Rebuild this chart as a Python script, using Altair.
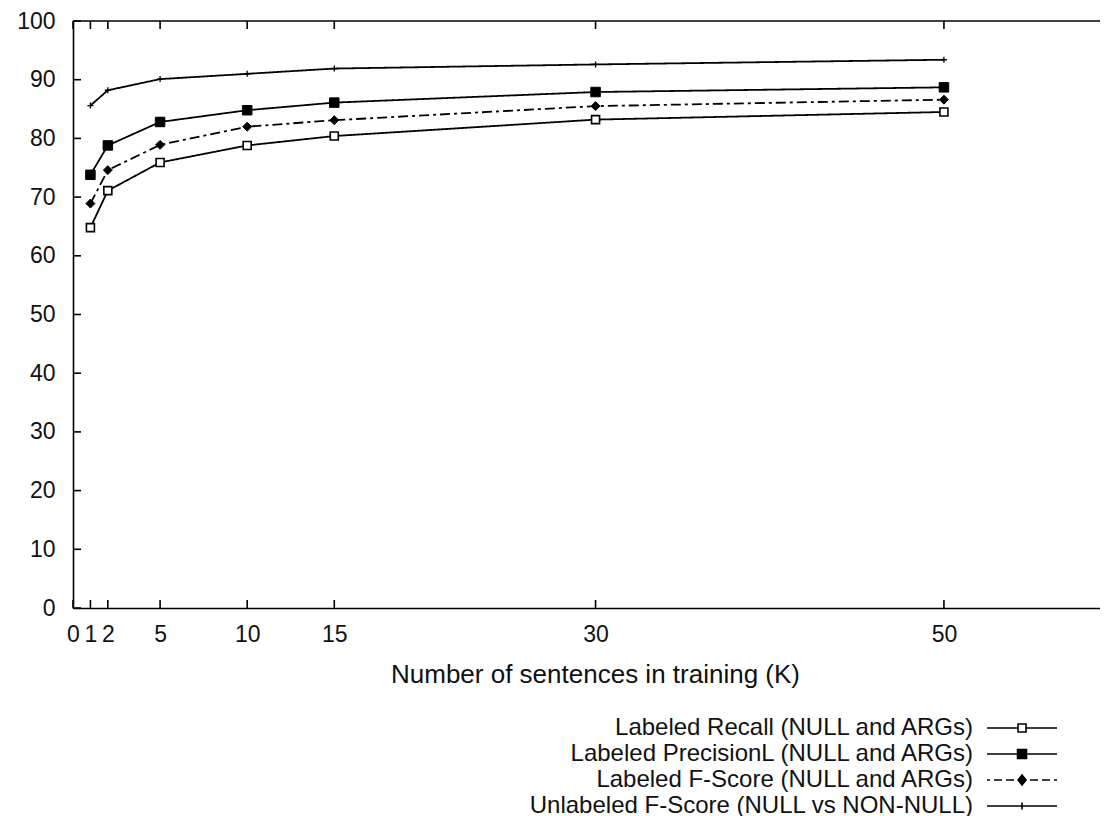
import altair as alt
import pandas as pd

# ---- data ----
x_vals = [1, 2, 5, 10, 15, 30, 50]
series_names = [
    "Labeled Recall (NULL and ARGs)",
    "Labeled PrecisionL (NULL and ARGs)",
    "Labeled F-Score (NULL and ARGs)",
    "Unlabeled F-Score (NULL vs NON-NULL)",
]
recall = [64.8, 71.1, 75.9, 78.8, 80.4, 83.2, 84.5]
precision = [73.8, 78.8, 82.8, 84.8, 86.1, 87.9, 88.7]
fscore = [68.9, 74.6, 78.9, 82.0, 83.1, 85.5, 86.6]
unlabeled = [85.6, 88.2, 90.1, 91.0, 91.9, 92.6, 93.4]
x_ticks = [0, 1, 2, 5, 10, 15, 30, 50]
y_ticks = [0, 10, 20, 30, 40, 50, 60, 70, 80, 90, 100]

values = [recall, precision, fscore, unlabeled]
rows = []
for name, ys_ in zip(series_names, values):
    for xv, yv in zip(x_vals, ys_):
        rows.append({"series": name, "x": xv, "y": yv})
df = pd.DataFrame(rows)
ytick_df = pd.DataFrame({"y": y_ticks})
xtick_df = pd.DataFrame({"x": x_ticks})

FONT = "Liberation Sans"
TXT = "#111111"
XMAX = 58.96

xs = alt.Scale(domain=[0, XMAX], nice=False, zero=False)
ys = alt.Scale(domain=[0, 100], nice=False, zero=False)

xaxis = alt.Axis(
    values=x_ticks, title="Number of sentences in training (K)",
    ticks=False, domain=True, domainColor="black", domainWidth=1.6, grid=False,
    labelPadding=15, labelFontSize=23, labelFont=FONT, labelColor=TXT,
    labelFlush=False, labelOverlap=False, labelBound=False,
    titleFont=FONT, titleFontSize=26, titleFontWeight="normal", titleColor=TXT,
    titleX=522, titleY=74, titleBaseline="alphabetic",
)
yaxis = alt.Axis(
    values=y_ticks, title=None,
    ticks=False, domain=True, domainColor="black", domainWidth=1.6, grid=False,
    labelPadding=18, labelFontSize=23, labelFont=FONT, labelColor=TXT,
    labelFlush=False, labelOverlap=False, labelBound=False,
)

X = lambda f: alt.X(f, scale=xs, axis=xaxis)
Y = lambda f: alt.Y(f, scale=ys, axis=yaxis)

line_dashes = [[1, 0], [1, 0], [10, 4, 3, 4], [1, 0]]
point_styles = [
    dict(shape="square", size=64, fill="white", strokeWidth=1.6),
    dict(shape="square", size=90, fill="black", strokeWidth=1),
    dict(shape="diamond", size=80, fill="black", strokeWidth=1),
    dict(shape="M-1,0H1M0,-1V1", size=36, fill="none", strokeWidth=1.3),
]

series_layers = []
for name, dash, st in zip(series_names, line_dashes, point_styles):
    base = alt.Chart(df).transform_filter(alt.datum.series == name)
    series_layers.append(
        base.mark_line(color="black", strokeWidth=1.8, strokeDash=dash)
        .encode(x=X("x:Q"), y=Y("y:Q"), order="x:Q")
    )
    series_layers.append(
        base.mark_point(shape=st["shape"], size=st["size"], filled=True, fill=st["fill"],
                        stroke="black", strokeWidth=st["strokeWidth"], opacity=1)
        .encode(x=X("x:Q"), y=Y("y:Q"))
    )

# inward tick marks and top border
yticks_l = alt.Chart(ytick_df).transform_calculate(x0="0", x1="0.46").mark_rule(
    color="black", strokeWidth=1.6).encode(x=X("x0:Q"), x2="x1:Q", y=Y("y:Q"))
xticks_b = alt.Chart(xtick_df).transform_calculate(y0="0", y1="1.36").mark_rule(
    color="black", strokeWidth=1.6).encode(x=X("x:Q"), y=Y("y0:Q"), y2="y1:Q")
xticks_t = alt.Chart(xtick_df).transform_calculate(y0="100", y1="98.64").mark_rule(
    color="black", strokeWidth=1.6).encode(x=X("x:Q"), y=Y("y0:Q"), y2="y1:Q")
top_border = alt.Chart(pd.DataFrame({"y": [100]})).transform_calculate(
    x0="0", x1=str(XMAX)).mark_rule(color="black", strokeWidth=1.6).encode(
    x=X("x0:Q"), x2="x1:Q", y=Y("y:Q"))

# legend (gnuplot-style: label on the left, line sample to its right)
legend_paths = [
    "M4.29,0H8.72M9.86,0H14.29M8.72,-0.57H9.86V0.57H8.72Z",
    "M4.29,0H14.29M8.65,-0.64H9.93V0.64H8.65Z",
    "M4.29,0H4.72M5.29,0H6.43M7,0H8.15M8.72,0H9.86M10.43,0H11.58M12.15,0H13.29M13.86,0H14.29"
    "M9.29,-0.71L9.86,0L9.29,0.71L8.72,0Z",
    "M4.29,0H14.29M9.29,-0.5V0.5",
]
legend_fills = ["white", "black", "black", "black"]
legend_strokes = ["black", "black", "black", "black"]
leg = alt.Legend(
    title=None, orient="none", legendX=750, legendY=695,
    labelFont=FONT, labelFontSize=24, labelColor=TXT,
    labelAlign="right", labelBaseline="middle", labelLimit=600,
    symbolSize=196, symbolOffset=122, rowPadding=2,
    symbolStrokeColor="black", symbolStrokeWidth=1.6, symbolOpacity=1,
)
legend_layer = alt.Chart(df).mark_point(
    filled=True, strokeWidth=1.6, opacity=0).encode(
    x=X("x:Q"), y=Y("y:Q"),
    shape=alt.Shape("series:N", scale=alt.Scale(domain=series_names, range=legend_paths), legend=leg),
    fill=alt.Fill("series:N", scale=alt.Scale(domain=series_names, range=legend_fills), legend=leg),
    stroke=alt.Stroke("series:N", scale=alt.Scale(domain=series_names, range=legend_strokes), legend=leg),
)

chart = alt.layer(
    *series_layers, yticks_l, xticks_b, xticks_t, top_border, legend_layer
).properties(
    width=1027, height=587,
    padding={"left": 65, "top": 13, "right": 0, "bottom": 208},
    autosize=alt.AutoSizeParams(type="none"),
    background="white",
).configure_view(strokeWidth=0)

chart.save("out.html", embed_options={"renderer": "svg", "actions": False})
